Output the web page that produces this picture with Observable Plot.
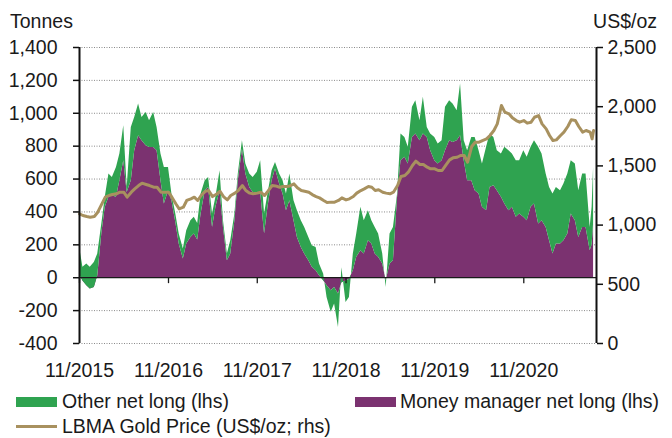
<!DOCTYPE html>
<html>
<head>
<meta charset="utf-8">
<script src="https://cdn.jsdelivr.net/npm/d3@7"></script>
<script src="https://cdn.jsdelivr.net/npm/@observablehq/plot@0.6"></script>
<style>
  html, body { margin: 0; padding: 0; background: #fff; }
  #wrap { position: relative; width: 672px; height: 438px; overflow: hidden; font-family: "Liberation Sans", Arial, sans-serif; color: #1a1a1a; }
  #chart { position: absolute; left: 0; top: 0; }
  .lab { position: absolute; font-size: 19.5px; line-height: 20px; white-space: nowrap; }
  .sw { position: absolute; }
</style>
</head>
<body>
<div id="wrap">
  <div id="chart"></div>
  <div class="lab" style="left:10px; top:11px;">Tonnes</div>
  <div class="lab" style="right:15px; top:11px;">US$/oz</div>
  <div class="sw" style="left:16px; top:397px; width:41px; height:10px; background:#2fa350;"></div>
  <div class="lab" style="left:62px; top:391px;">Other net long (lhs)</div>
  <div class="sw" style="left:355px; top:397px; width:41px; height:10px; background:#7b3270;"></div>
  <div class="lab" style="left:400px; top:391px;">Money manager net long (lhs)</div>
  <div class="sw" style="left:16px; top:425px; width:41px; height:3px; background:#a8915f;"></div>
  <div class="lab" style="left:62px; top:416px;">LBMA Gold Price (US$/oz; rhs)</div>
</div>
<script>
// ---- data ----
const dates = [
  "2015-11-01","2015-11-15","2015-12-01","2015-12-15",
  "2016-01-01","2016-01-15","2016-02-01","2016-02-15","2016-03-01","2016-03-15","2016-04-01","2016-04-15","2016-05-01","2016-05-15","2016-06-01","2016-06-15",
  "2016-07-01","2016-07-15","2016-08-01","2016-08-15","2016-09-01","2016-09-15","2016-10-01","2016-10-15","2016-11-01","2016-11-15","2016-12-01","2016-12-15",
  "2017-01-01","2017-01-15","2017-02-01","2017-02-15","2017-03-01","2017-03-15","2017-04-01","2017-04-15","2017-05-01","2017-05-15","2017-06-01","2017-06-15",
  "2017-07-01","2017-07-15","2017-08-01","2017-08-15","2017-09-01","2017-09-15","2017-10-01","2017-10-15","2017-11-01","2017-11-15","2017-12-01","2017-12-15",
  "2018-01-01","2018-01-15","2018-02-01","2018-02-15","2018-03-01","2018-03-15","2018-04-01","2018-04-15","2018-05-01","2018-05-15","2018-06-01","2018-06-15",
  "2018-07-01","2018-07-15","2018-08-01","2018-08-15","2018-09-01","2018-09-15","2018-10-01","2018-10-15","2018-11-01","2018-11-15","2018-12-01","2018-12-15",
  "2019-01-01","2019-01-15","2019-02-01","2019-02-15","2019-03-01","2019-03-15","2019-04-01","2019-04-15","2019-05-01","2019-05-15","2019-06-01","2019-06-15",
  "2019-07-01","2019-07-15","2019-08-01","2019-08-15","2019-09-01","2019-09-15","2019-10-01","2019-10-15","2019-11-01","2019-11-15","2019-12-01","2019-12-15",
  "2020-01-01","2020-01-15","2020-02-01","2020-02-15","2020-03-01","2020-03-15","2020-04-01","2020-04-15","2020-05-01","2020-05-15","2020-06-01","2020-06-15",
  "2020-07-01","2020-07-15","2020-08-01","2020-08-15","2020-09-01","2020-09-15","2020-10-01","2020-10-15","2020-11-01","2020-11-15","2020-12-01","2020-12-15",
  "2021-01-01","2021-01-15","2021-02-01","2021-02-15","2021-03-01","2021-03-15","2021-04-01","2021-04-15","2021-05-01","2021-05-15","2021-06-01","2021-06-15",
  "2021-07-01","2021-07-15","2021-08-01","2021-08-09","2021-08-15"
];
// Money manager net long (tonnes)
const moneyManager = [
  20,-20,-49,-69,
  -59,10,270,428,489,499,489,590,711,519,590,772,863,833,803,792,792,772,590,448,529,468,336,205,
  114,205,245,266,230,387,529,549,306,428,529,306,103,144,347,590,782,630,549,519,519,519,266,428,
  590,661,570,509,407,468,347,245,184,144,103,63,43,12,-18,-49,-79,-59,-99,-30,-20,-10,43,124,
  164,144,225,205,144,124,83,-18,83,103,489,711,732,691,853,874,833,874,853,772,711,691,711,772,
  833,823,833,864,711,590,590,529,509,428,407,549,559,529,489,448,407,428,367,387,367,347,428,448,
  326,347,306,225,144,205,205,225,266,387,347,245,306,306,164,200,326
];
// Other net long (tonnes)
const otherNet = [
  170,83,132,132,
  152,134,60,61,141,111,182,162,213,30,324,203,193,142,202,163,213,142,162,223,142,41,51,61,
  60,81,102,101,100,122,61,61,81,61,122,41,41,81,40,40,51,61,81,91,122,192,121,81,
  61,40,60,81,102,162,121,162,163,162,142,132,141,71,40,-71,-131,-101,-203,90,-130,-110,101,142,
  264,203,182,142,162,142,61,-41,183,203,20,163,121,102,183,202,122,223,61,102,142,122,122,264,
  243,233,183,314,122,182,263,324,263,263,386,325,294,243,263,345,365,324,344,324,405,385,365,385,
  467,405,324,324,365,344,324,345,364,324,344,284,324,324,142,230,345
];
// LBMA gold price (US$/oz)
const goldPrice = [
  1095,1081,1073,1067,
  1073,1109,1180,1236,1250,1258,1264,1278,1278,1236,1278,1306,1334,1354,1343,1334,1320,1320,1278,1278,1278,1236,1180,1137,
  1151,1208,1222,1236,1208,1250,1285,1292,1241,1258,1286,1241,1213,1250,1270,1292,1334,1292,1270,1264,1270,1278,1250,1286,
  1334,1331,1320,1326,1326,1331,1348,1315,1292,1286,1278,1258,1241,1230,1208,1191,1194,1194,1208,1230,1213,1222,1241,1270,
  1292,1306,1326,1320,1292,1298,1278,1270,1264,1278,1334,1410,1419,1447,1503,1540,1512,1512,1489,1475,1475,1461,1461,1503,
  1551,1568,1573,1588,1588,1531,1664,1700,1700,1714,1728,1757,1799,1855,2010,1954,1940,1906,1883,1869,1883,1861,1869,1911,
  1925,1855,1813,1757,1714,1720,1757,1785,1833,1889,1883,1833,1785,1799,1785,1728,1799
];
const xTickLabels = ["11/2015","11/2016","11/2017","11/2018","11/2019","11/2020"];
const xDomain = ["2015-11-01","2021-08-27"];
const leftTicks = [-400,-200,0,200,400,600,800,1000,1200,1400];
const rightTicks = [0,500,1000,1500,2000,2500];

// ---- build ----
const leftMin = -400, leftMax = 1400, rightMax = 2500;
const toLeft = g => leftMin + g * (leftMax - leftMin) / rightMax;
const fromLeft = v => Math.round((v - leftMin) * rightMax / (leftMax - leftMin));

const rows = dates.map((d, i) => ({
  date: new Date(d),
  mm: moneyManager[i],
  total: moneyManager[i] + otherNet[i],
  gold: toLeft(goldPrice[i])
}));
const xTickDates = xTickLabels.map(s => { const [m, y] = s.split("/"); return new Date(Date.UTC(+y, +m - 1, 1)); });
const dom = xDomain.map(d => new Date(d));

const GREEN = "#2fa350", PURPLE = "#7b3270", GOLD = "#a8915f";

const chart = Plot.plot({
  width: 672,
  height: 385,
  marginLeft: 79,
  marginRight: 76,
  marginTop: 47,
  marginBottom: 42,
  style: { fontFamily: '"Liberation Sans", Arial, sans-serif', fontSize: "19.5px", color: "#1a1a1a", background: "transparent", overflow: "visible" },
  x: { type: "utc", domain: dom },
  y: { domain: [leftMin, leftMax] },
  marks: [
    Plot.ruleY(leftTicks.filter(v => v !== 0), { stroke: "#8a8a8a", strokeWidth: 1, strokeDasharray: "1,1.5" }),
    Plot.areaY(rows, { x: "date", y1: 0, y2: "mm", fill: PURPLE }),
    Plot.areaY(rows, { x: "date", y1: "mm", y2: "total", fill: GREEN }),
    Plot.ruleY([0], { stroke: "#1a1a1a", strokeWidth: 1.3 }),
    Plot.ruleX(xTickDates, { y1: 0, y2: -36, stroke: "#1a1a1a", strokeWidth: 1.3 }),
    Plot.lineY(rows, { x: "date", y: "gold", stroke: GOLD, strokeWidth: 3, strokeLinejoin: "round" }),
    Plot.ruleX([dom[0]], { stroke: "#111", strokeWidth: 2 }),
    Plot.ruleX([dom[1]], { stroke: "#111", strokeWidth: 2 }),
    Plot.axisY(leftTicks, { anchor: "left", tickSize: 6, tickPadding: 16, tickFormat: d => d.toLocaleString("en-US"), stroke: "#111", strokeWidth: 1.5 }),
    Plot.axisY(rightTicks.map(toLeft), { anchor: "right", tickSize: 6, tickPadding: 5, tickFormat: d => fromLeft(d).toLocaleString("en-US"), stroke: "#111", strokeWidth: 1.5 }),
    Plot.axisX(xTickDates, { anchor: "bottom", tickSize: 0, tickPadding: 20, tickFormat: d3.utcFormat("%m/%Y") })
  ]
});
document.getElementById("chart").appendChild(chart);
</script>
</body>
</html>
